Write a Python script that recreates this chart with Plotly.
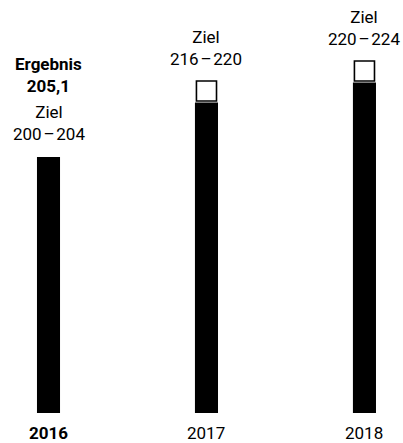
import plotly.graph_objects as go

# Years and values
years = ["2016", "2017", "2018"]
bar_values = [205.1, 216, 220]          # 2016 result, then lower target bound
target_low = [200, 216, 220]
target_high = [204, 220, 224]
result_label = "205,1"

x_pos = [0, 1, 2]
FONT = "Roboto"
AXIS_MIN, AXIS_MAX = 153.6, 236.2

fig = go.Figure()

# Solid bars
fig.add_trace(go.Bar(
    x=x_pos, y=bar_values, width=0.165,
    marker=dict(color="black", line=dict(color="white", width=3)),
    hoverinfo="skip", showlegend=False,
))

# Open boxes for the target range (forecast years)
fig.add_trace(go.Bar(
    x=x_pos[1:],
    base=target_low[1:],
    y=[h - l for h, l in zip(target_high[1:], target_low[1:])],
    width=0.127,
    marker=dict(color="white", line=dict(color="black", width=1.6)),
    hoverinfo="skip", showlegend=False,
))

annotations = []
# Target text above each mark
for i, (lo, hi) in enumerate(zip(target_low, target_high)):
    top = bar_values[i] if i == 0 else hi
    annotations.append(dict(
        x=x_pos[i], y=top, xref="x", yref="y",
        text=f"Ziel<br>{lo}\u200a\u2013\u200a{hi}",
        showarrow=False, yanchor="bottom", yshift=10,
        font=dict(family=FONT, size=17, color="black"),
    ))
# Reported result for 2016
annotations.append(dict(
    x=x_pos[0], y=bar_values[0], xref="x", yref="y",
    text=f"<b>Ergebnis</b><br><b>{result_label}</b>",
    showarrow=False, yanchor="bottom", yshift=58,
    font=dict(family=FONT, size=17, color="black"),
))
# Year labels under the bars
for i, yr in enumerate(years):
    annotations.append(dict(
        x=x_pos[i], y=0, xref="x", yref="paper",
        text=f"<b>{yr}</b>" if i == 0 else yr,
        showarrow=False, yanchor="top", yshift=-8,
        font=dict(family=FONT, size=17, color="black"),
    ))

fig.update_layout(
    width=403, height=443,
    margin=dict(l=0, r=0, t=0, b=30),
    paper_bgcolor="white", plot_bgcolor="white",
    barmode="overlay",
    xaxis=dict(range=[-0.307, 2.244], visible=False, fixedrange=True),
    yaxis=dict(range=[AXIS_MIN, AXIS_MAX], visible=False, fixedrange=True),
    annotations=annotations,
)

fig.write_html("out.html", config={"displayModeBar": False})
